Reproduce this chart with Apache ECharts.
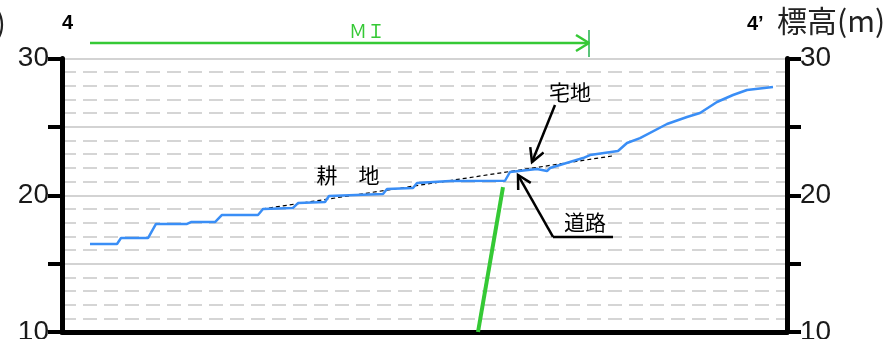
<!DOCTYPE html>
<html>
<head>
<meta charset="UTF-8">
<title>標高断面</title>
<script src="https://cdn.jsdelivr.net/npm/echarts@6/dist/echarts.min.js"></script>
<style>
  html, body { margin: 0; padding: 0; background: #fff; }
  #chart { width: 887px; height: 339px; }
</style>
</head>
<body>
<div id="chart"></div>
<script>
// 地盤高プロファイル (距離, 標高)
var profileX = [5.6, 11.0, 11.8, 17.2, 18.8, 25.0, 25.8, 30.6, 32.0, 39.2, 40.2, 46.2, 47.2, 52.6, 53.4,
                64.2, 65.0, 70.2, 71.0, 77.6, 88.6, 89.6, 95.0, 97.0, 97.6, 104.2, 105.6, 111.2, 113.0,
                115.6, 121.0, 125.0, 127.6, 131.0, 134.2, 137.0, 142.2];
var profileY = [16.44, 16.44, 16.87, 16.87, 17.90, 17.90, 18.04, 18.04, 18.56, 18.56, 18.99, 19.07, 19.43, 19.51, 19.95,
                20.09, 20.46, 20.53, 20.90, 21.04, 21.06, 21.70, 21.92, 21.77, 21.99, 22.72, 22.94, 23.24, 23.82,
                24.18, 25.21, 25.72, 26.01, 26.82, 27.33, 27.70, 27.92];
// 元地盤 (破線)
var dashX = [40.0, 110.0];
var dashY = [18.99, 22.87];
// 緑の線
var wallX = [83.2, 88.2];
var wallY = [10.0, 20.60];
// 上部の矢印 MI
var miX = [5.6, 105.4];
var miY = [31.13, 31.13];
var miTickX = [105.4, 105.4];
var miTickY = [32.08, 30.11];
var miHeadX = [102.8, 105.4, 102.8];
var miHeadY = [31.72, 31.13, 30.55];

var yTicks = [10, 15, 20, 25, 30];
var yLabels = [10, 20, 30];

var zip = function (xs, ys) { return xs.map(function (x, i) { return [x, ys[i]]; }); };

var chart = echarts.init(document.getElementById('chart'));

var green = '#35c935';
var numFont = { fontSize: 28, color: '#1a1a1a', fontFamily: 'Liberation Sans, Arial, sans-serif' };

function yAxisOpt(pos) {
  return {
    type: 'value',
    position: pos,
    min: yTicks[0],
    max: yTicks[yTicks.length - 1],
    interval: 5,
    axisLine: { show: true, lineStyle: { color: '#000', width: 5 } },
    axisTick: { show: true, length: 14, lineStyle: { color: '#000', width: 4 } },
    axisLabel: Object.assign({
      margin: 13,
      formatter: function (v) { return yLabels.indexOf(v) >= 0 ? String(v) : ''; }
    }, numFont),
    splitLine: { show: pos === 'left', lineStyle: { color: '#c4c4c4', width: 1.5 } },
    minorTick: { show: false, splitNumber: 5 },
    minorSplitLine: { show: pos === 'left', lineStyle: { color: '#c8c8c8', width: 1.5, type: [14, 7] } }
  };
}

chart.setOption({
  animation: false,
  grid: { left: 62, right: 100, top: 58.5, bottom: 7, containLabel: false, outerBoundsMode: 'none' },
  xAxis: {
    type: 'value', min: 0, max: 145,
    axisLine: { show: true, lineStyle: { color: '#000', width: 5 } },
    axisTick: { show: false },
    axisLabel: { show: false },
    splitLine: { show: false }
  },
  yAxis: [yAxisOpt('left'), yAxisOpt('right')],
  series: [
    { type: 'line', data: zip(dashX, dashY), symbol: 'none', z: 3,
      lineStyle: { color: '#000', width: 1.2, type: [4, 3] } },
    { type: 'line', data: zip(profileX, profileY), symbol: 'none', z: 4,
      lineStyle: { color: '#3a8ef6', width: 2.5 } },
    { type: 'line', data: zip(wallX, wallY), symbol: 'none', z: 5,
      lineStyle: { color: green, width: 4 } },
    { type: 'line', data: zip(miX, miY), symbol: 'none', clip: false,
      lineStyle: { color: green, width: 2.5 } },
    { type: 'line', data: zip(miTickX, miTickY), symbol: 'none', clip: false,
      lineStyle: { color: '#22b14c', width: 1.5 } },
    { type: 'line', data: zip(miHeadX, miHeadY), symbol: 'none', clip: false,
      lineStyle: { color: green, width: 2.5 } }
  ]
});

// 注記 (データ座標)
var notes = [
  { text: 'ＭＩ', x: 61.0, y: 32.03, size: 18, color: green },
  { text: '耕　地', x: 57.2, y: 21.48, size: 21, color: '#000' },
  { text: '宅地', x: 101.6, y: 27.55, size: 21, color: '#000' },
  { text: '道路', x: 104.6, y: 18.04, size: 21, color: '#000' }
];
var arrows = [
  { from: [98.6, 26.60], to: [94.0, 22.43] },
  { from: [98.2, 16.95], to: [91.2, 21.48] }
];
var underline = { from: [98.2, 16.95], to: [110.2, 16.95] };

function px(p) { return chart.convertToPixel({ gridIndex: 0 }, p); }

var jp = '"Noto Sans CJK JP", sans-serif';
var graphics = [];
notes.forEach(function (n) {
  var p = px([n.x, n.y]);
  graphics.push({ type: 'text', x: p[0], y: p[1], z: 10,
    style: { text: n.text, fontSize: n.size, fontFamily: jp, fill: n.color, align: 'center', verticalAlign: 'middle' } });
});
arrows.forEach(function (a) {
  var s = px(a.from), t = px(a.to);
  var ang = Math.atan2(s[1] - t[1], s[0] - t[0]);
  var L = 15, w = 0.5;
  var w1 = [t[0] + L * Math.cos(ang + w), t[1] + L * Math.sin(ang + w)];
  var w2 = [t[0] + L * Math.cos(ang - w), t[1] + L * Math.sin(ang - w)];
  graphics.push({ type: 'line', z: 10, shape: { x1: s[0], y1: s[1], x2: t[0], y2: t[1] },
    style: { stroke: '#000', lineWidth: 2.5 } });
  graphics.push({ type: 'polyline', z: 10, shape: { points: [w1, t, w2] },
    style: { stroke: '#000', lineWidth: 2.5, fill: null } });
});
(function () {
  var s = px(underline.from), t = px(underline.to);
  graphics.push({ type: 'line', z: 10, shape: { x1: s[0], y1: s[1], x2: t[0], y2: t[1] },
    style: { stroke: '#000', lineWidth: 2.5 } });
})();

// 上部の見出し
graphics.push({ type: 'text', x: 6, y: 23, style: { text: '標高(m)', fontSize: 30, fontFamily: jp, fill: '#222', align: 'right', verticalAlign: 'middle' } });
graphics.push({ type: 'text', x: 62, y: 23, style: { text: '4', fontSize: 20, fontWeight: 'bold', fontFamily: 'Liberation Sans, Arial, sans-serif', fill: '#000', align: 'left', verticalAlign: 'middle' } });
graphics.push({ type: 'text', x: 747, y: 24, style: { text: '4’', fontSize: 20, fontWeight: 'bold', fontFamily: 'Liberation Sans, Arial, sans-serif', fill: '#000', align: 'left', verticalAlign: 'middle' } });
graphics.push({ type: 'text', x: 777, y: 21, style: { text: '標高(m)', fontSize: 30, fontFamily: jp, fill: '#222', align: 'left', verticalAlign: 'middle' } });

chart.setOption({ graphic: graphics });
</script>
</body>
</html>
